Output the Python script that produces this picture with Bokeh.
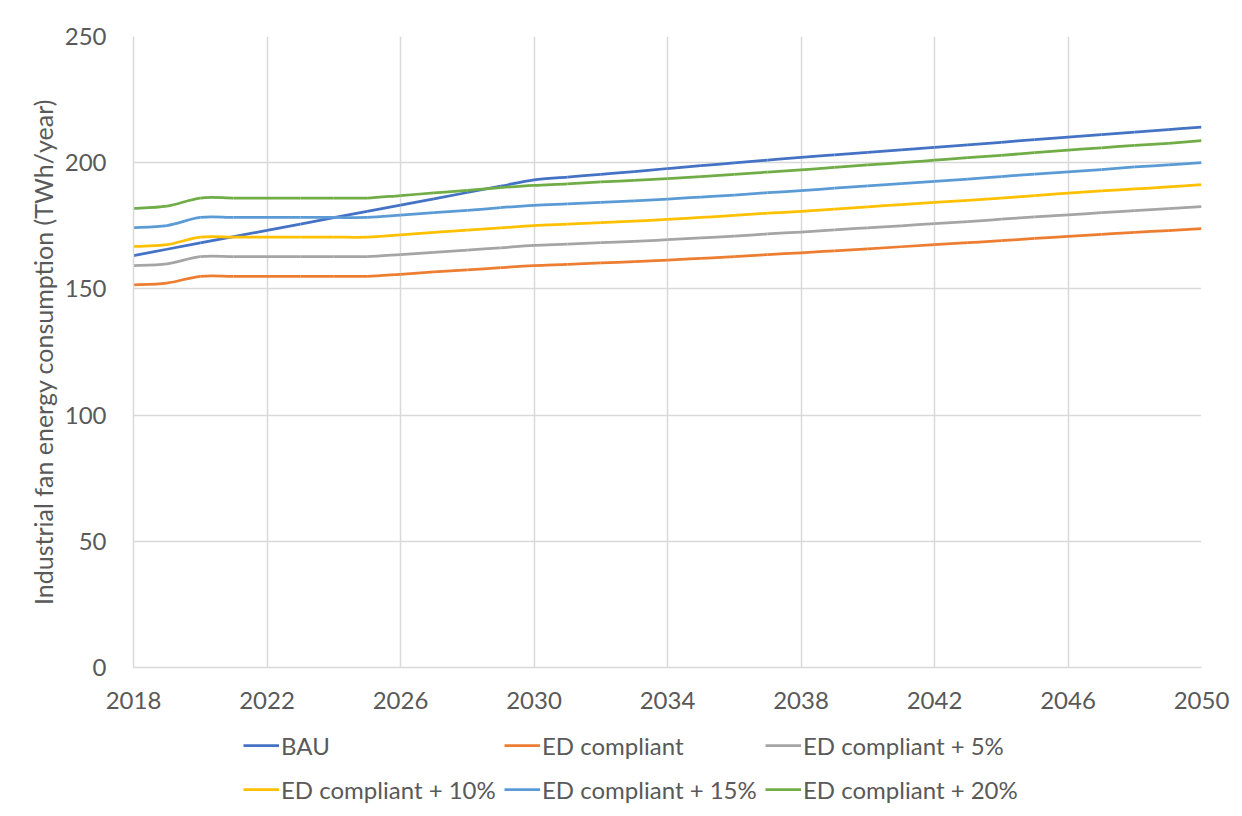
from bokeh.plotting import figure
from bokeh.layouts import column
from bokeh.models import Range1d, Legend, LegendItem, FixedTicker
from bokeh.embed import file_html
from bokeh.resources import INLINE

years = list(range(2018, 2051))

bau = [163.2, 165.7, 168.2, 170.7, 173.2, 175.7, 178.2, 180.7, 183.2, 185.7, 188.2, 190.7, 193.2,
       194.3, 195.4, 196.5, 197.7, 198.8, 199.9, 201.0, 202.1, 203.1, 204.1, 205.1, 206.1,
       207.1, 208.1, 209.1, 210.1, 211.1, 212.1, 213.1, 214.1]
ed = [151.6, 152.3, 155.0, 155.0, 155.0, 155.0, 155.0, 155.0, 155.8, 156.7, 157.5, 158.4, 159.2,
      159.7, 160.3, 160.8, 161.4, 162.1, 162.8, 163.6, 164.3, 165.1, 165.9, 166.7, 167.5,
      168.3, 169.1, 170.0, 170.8, 171.6, 172.4, 173.1, 173.9]
ed5 = [159.2, 159.9, 162.8, 162.8, 162.8, 162.8, 162.8, 162.8, 163.6, 164.5, 165.4, 166.3, 167.2,
       167.7, 168.3, 168.8, 169.5, 170.2, 170.9, 171.8, 172.5, 173.4, 174.2, 175.0, 175.9,
       176.7, 177.6, 178.5, 179.3, 180.2, 181.0, 181.8, 182.6]
ed10 = [166.8, 167.5, 170.5, 170.5, 170.5, 170.5, 170.5, 170.5, 171.4, 172.4, 173.3, 174.2, 175.1,
        175.7, 176.3, 176.9, 177.5, 178.3, 179.1, 180.0, 180.7, 181.6, 182.5, 183.4, 184.3,
        185.1, 186.0, 187.0, 187.9, 188.8, 189.6, 190.4, 191.3]
ed15 = [174.3, 175.1, 178.3, 178.3, 178.3, 178.3, 178.3, 178.3, 179.2, 180.2, 181.1, 182.2, 183.1,
        183.7, 184.3, 184.9, 185.6, 186.4, 187.2, 188.1, 188.9, 189.9, 190.8, 191.7, 192.6,
        193.5, 194.5, 195.5, 196.4, 197.3, 198.3, 199.1, 200.0]
ed20 = [181.9, 182.8, 186.0, 186.0, 186.0, 186.0, 186.0, 186.0, 187.0, 188.0, 189.0, 190.1, 191.0,
        191.6, 192.4, 193.0, 193.7, 194.5, 195.4, 196.3, 197.2, 198.1, 199.1, 200.0, 201.0,
        202.0, 202.9, 204.0, 205.0, 205.9, 206.9, 207.7, 208.7]

series_names = ["BAU", "ED compliant", "ED compliant + 5%",
                "ED compliant + 10%", "ED compliant + 15%", "ED compliant + 20%"]
series_values = [bau, ed, ed5, ed10, ed15, ed20]
series_colors = ["#4472C4", "#ED7D31", "#A5A5A5", "#FFC000", "#5B9BD5", "#70AD47"]

x_ticks = list(range(2018, 2051, 4))
y_ticks = [0, 50, 100, 150, 200, 250]

FONT = "Lato"
TXT = "#595959"
GRID = "#d9d9d9"


def smooth_segments(xs, ys):
    """Excel-like smoothed line: cubic Bezier pieces through the data points."""
    n = len(xs)
    seg = dict(x0=[], y0=[], x1=[], y1=[], cx0=[], cy0=[], cx1=[], cy1=[])
    for i in range(n - 1):
        xa, ya = xs[max(i - 1, 0)], ys[max(i - 1, 0)]
        xb, yb = xs[i], ys[i]
        xc, yc = xs[i + 1], ys[i + 1]
        xd, yd = xs[min(i + 2, n - 1)], ys[min(i + 2, n - 1)]
        seg["x0"].append(xb); seg["y0"].append(yb)
        seg["x1"].append(xc); seg["y1"].append(yc)
        seg["cx0"].append(xb + (xc - xa) / 6.0); seg["cy0"].append(yb + (yc - ya) / 6.0)
        seg["cx1"].append(xc - (xd - xb) / 6.0); seg["cy1"].append(yc - (yd - yb) / 6.0)
    return seg


# ---- main chart ----
p = figure(frame_width=1068, frame_height=631, output_backend="svg", toolbar_location=None,
           x_range=Range1d(2018, 2050), y_range=Range1d(0, 250),
           min_border_left=133, min_border_right=33, min_border_top=36, min_border_bottom=56)
p.outline_line_color = None

for vals, col in zip(series_values, series_colors):
    p.bezier(line_color=col, line_width=2.75, **smooth_segments(years, vals))

p.xaxis.ticker = FixedTicker(ticks=x_ticks)
p.yaxis.ticker = FixedTicker(ticks=y_ticks)
for ax in (p.xaxis[0], p.yaxis[0]):
    ax.major_tick_line_color = None
    ax.minor_tick_line_color = None
    ax.axis_line_color = GRID
    ax.axis_line_width = 1.5
    ax.major_label_text_font = FONT
    ax.major_label_text_font_size = "24px"
    ax.major_label_text_color = TXT
p.xaxis.major_label_standoff = 18
p.yaxis.major_label_standoff = 21
p.yaxis.axis_label = "Industrial fan energy consumption (TWh/year)"
p.yaxis.axis_label_text_font = FONT
p.yaxis.axis_label_text_font_size = "25px"
p.yaxis.axis_label_text_font_style = "normal"
p.yaxis.axis_label_text_color = TXT
p.yaxis.axis_label_standoff = 4

p.xgrid.ticker = FixedTicker(ticks=x_ticks)
p.ygrid.ticker = FixedTicker(ticks=y_ticks)
p.grid.grid_line_color = GRID
p.grid.grid_line_width = 1.5

# ---- legend strip below the chart ----
leg = figure(width=1234, height=89, output_backend="svg", toolbar_location=None,
             x_range=Range1d(0, 1), y_range=Range1d(0, 1),
             x_axis_type=None, y_axis_type=None, min_border=0)
leg.outline_line_color = None
leg.grid.visible = False

items = []
for name, vals, col in zip(series_names, series_values, series_colors):
    # one-point line (draws nothing, outside the view) that only provides the legend swatch
    r = leg.line(years[:1], vals[:1], line_color=col, line_width=2.75)
    items.append(LegendItem(label=name, renderers=[r]))

legend = Legend(items=items, orientation="horizontal", ncols=3, location=(110, 1),
                border_line_color=None, background_fill_alpha=0,
                label_text_font=FONT, label_text_font_size="24px", label_text_color=TXT,
                glyph_width=36, glyph_height=44, label_height=44, label_width=223,
                label_standoff=2, spacing=0, padding=0, margin=0)
leg.add_layout(legend, "center")

layout = column(p, leg, spacing=0)
open("out.html", "w").write(file_html(layout, INLINE))
